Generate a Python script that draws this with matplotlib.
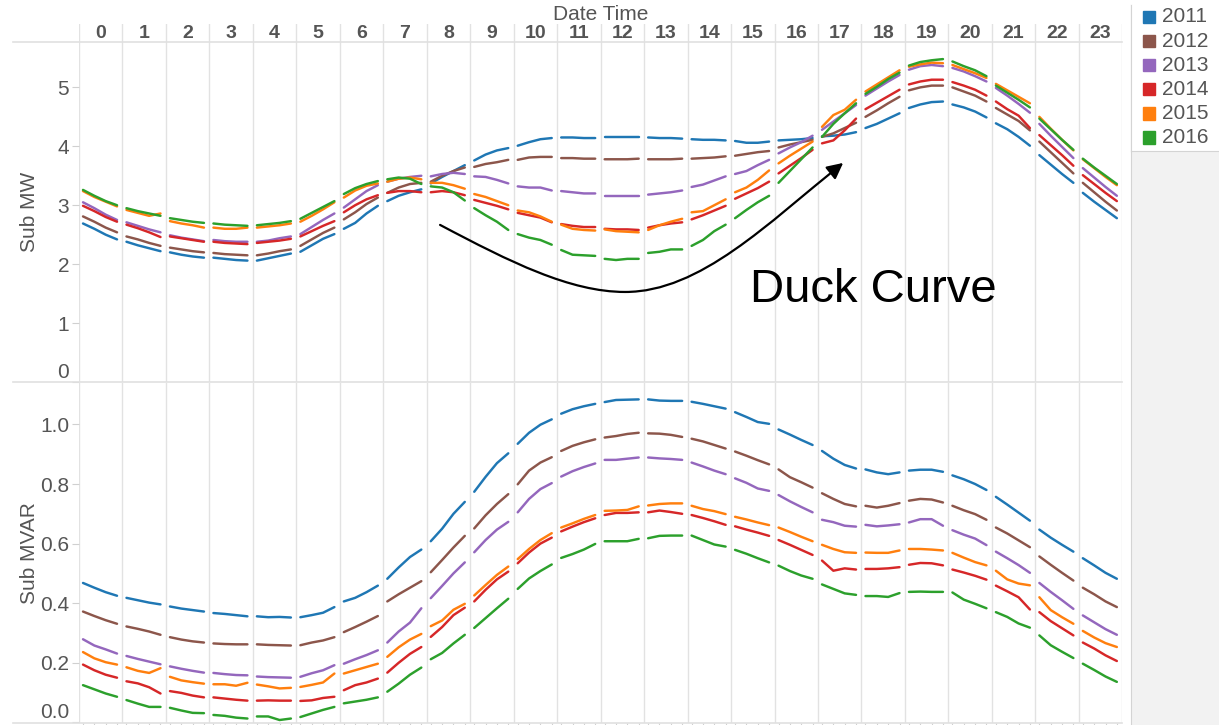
'''
    curva de pato: potencia activa y reactiva por hora del día, 2011-2016
'''

import matplotlib
matplotlib.use('Agg')
import matplotlib.pyplot as plt
from matplotlib.lines import Line2D
from matplotlib.patches import FancyArrowPatch, Rectangle
from matplotlib.path import Path

plt.rcParams['font.family'] = ['Liberation Sans', 'DejaVu Sans']

# datos (4 puntos por hora: minuto 0, 15, 30, 45)
horas = list(range(24))
minutos = [0, 15, 30, 45]
anios = ['2011', '2012', '2013', '2014', '2015', '2016']
colores = ['#1f77b4', '#8c564b', '#9467bd', '#d62728', '#ff7f0e', '#2ca02c']

mw_2011 = [
    [2.69, 2.60, 2.50, 2.42], [2.38, 2.32, 2.27, 2.22], [2.20, 2.16, 2.13, 2.11], [2.11, 2.09, 2.07, 2.06],
    [2.06, 2.10, 2.14, 2.18], [2.21, 2.32, 2.43, 2.51], [2.60, 2.70, 2.86, 2.99], [3.07, 3.16, 3.22, 3.27],
    [3.37, 3.48, 3.58, 3.68], [3.76, 3.86, 3.93, 3.97], [4.01, 4.07, 4.12, 4.14], [4.15, 4.15, 4.14, 4.14],
    [4.15, 4.15, 4.15, 4.15], [4.15, 4.14, 4.14, 4.13], [4.12, 4.11, 4.11, 4.10], [4.09, 4.06, 4.06, 4.08],
    [4.10, 4.11, 4.12, 4.14], [4.17, 4.18, 4.20, 4.24], [4.31, 4.38, 4.47, 4.56], [4.65, 4.71, 4.75, 4.76],
    [4.71, 4.66, 4.59, 4.49], [4.39, 4.29, 4.16, 4.01], [3.85, 3.69, 3.53, 3.38], [3.21, 3.06, 2.92, 2.78],
]
mw_2012 = [
    [2.81, 2.72, 2.62, 2.54], [2.47, 2.42, 2.36, 2.31], [2.28, 2.25, 2.22, 2.20], [2.19, 2.17, 2.16, 2.15],
    [2.15, 2.18, 2.22, 2.25], [2.31, 2.42, 2.53, 2.62], [2.76, 2.88, 3.02, 3.13], [3.21, 3.30, 3.36, 3.38],
    [3.40, 3.50, 3.58, 3.64], [3.65, 3.70, 3.73, 3.77], [3.77, 3.81, 3.82, 3.82], [3.80, 3.80, 3.79, 3.79],
    [3.78, 3.78, 3.78, 3.79], [3.78, 3.78, 3.78, 3.79], [3.79, 3.80, 3.81, 3.83], [3.84, 3.87, 3.90, 3.92],
    [3.98, 4.03, 4.07, 4.11], [4.16, 4.22, 4.31, 4.40], [4.50, 4.61, 4.73, 4.84], [4.95, 5.00, 5.03, 5.03],
    [5.00, 4.93, 4.86, 4.76], [4.65, 4.54, 4.43, 4.27], [4.08, 3.90, 3.72, 3.54], [3.38, 3.22, 3.06, 2.91],
]
mw_2013 = [
    [3.05, 2.95, 2.84, 2.75], [2.71, 2.65, 2.59, 2.54], [2.49, 2.45, 2.42, 2.39], [2.41, 2.39, 2.38, 2.38],
    [2.38, 2.40, 2.44, 2.47], [2.51, 2.63, 2.75, 2.86], [2.96, 3.10, 3.24, 3.34], [3.40, 3.45, 3.48, 3.50],
    [3.49, 3.53, 3.55, 3.53], [3.49, 3.48, 3.43, 3.37], [3.32, 3.30, 3.30, 3.25], [3.24, 3.22, 3.20, 3.20],
    [3.16, 3.16, 3.16, 3.16], [3.18, 3.20, 3.22, 3.25], [3.31, 3.35, 3.42, 3.49], [3.53, 3.58, 3.68, 3.77],
    [3.88, 3.98, 4.07, 4.18], [4.28, 4.42, 4.56, 4.70], [4.86, 4.98, 5.10, 5.21], [5.30, 5.36, 5.38, 5.36],
    [5.33, 5.27, 5.19, 5.10], [4.99, 4.86, 4.72, 4.57], [4.38, 4.18, 3.99, 3.80], [3.63, 3.47, 3.31, 3.16],
]
mw_2014 = [
    [2.99, 2.90, 2.80, 2.72], [2.67, 2.61, 2.54, 2.46], [2.47, 2.44, 2.41, 2.38], [2.38, 2.36, 2.35, 2.34],
    [2.36, 2.38, 2.40, 2.43], [2.47, 2.56, 2.65, 2.73], [2.88, 3.00, 3.10, 3.17], [3.21, 3.24, 3.24, 3.22],
    [3.22, 3.24, 3.22, 3.17], [3.09, 3.04, 2.99, 2.93], [2.87, 2.83, 2.79, 2.71], [2.68, 2.65, 2.63, 2.63],
    [2.60, 2.59, 2.59, 2.58], [2.62, 2.66, 2.69, 2.71], [2.76, 2.83, 2.91, 2.99], [3.11, 3.20, 3.29, 3.40],
    [3.54, 3.67, 3.80, 3.94], [4.05, 4.10, 4.27, 4.47], [4.63, 4.74, 4.85, 4.96], [5.05, 5.10, 5.13, 5.13],
    [5.09, 5.03, 4.96, 4.86], [4.76, 4.63, 4.52, 4.31], [4.19, 4.02, 3.85, 3.67], [3.51, 3.36, 3.21, 3.07],
]
mw_2015 = [
    [3.24, 3.14, 3.06, 2.98], [2.92, 2.87, 2.82, 2.86], [2.73, 2.69, 2.66, 2.62], [2.62, 2.60, 2.60, 2.62],
    [2.62, 2.64, 2.66, 2.69], [2.72, 2.82, 2.93, 3.05], [3.13, 3.25, 3.33, 3.37], [3.40, 3.45, 3.47, 3.44],
    [3.38, 3.38, 3.34, 3.28], [3.19, 3.14, 3.07, 3.00], [2.91, 2.88, 2.81, 2.72], [2.67, 2.60, 2.58, 2.57],
    [2.59, 2.56, 2.55, 2.54], [2.58, 2.66, 2.72, 2.77], [2.88, 2.90, 3.00, 3.10], [3.22, 3.30, 3.43, 3.59],
    [3.71, 3.84, 3.96, 4.08], [4.33, 4.53, 4.62, 4.79], [4.93, 5.05, 5.17, 5.29], [5.35, 5.39, 5.42, 5.41],
    [5.38, 5.31, 5.24, 5.16], [5.06, 4.95, 4.84, 4.73], [4.50, 4.30, 4.11, 3.93], [3.78, 3.63, 3.48, 3.34],
]
mw_2016 = [
    [3.26, 3.16, 3.07, 3.00], [2.95, 2.90, 2.86, 2.82], [2.78, 2.75, 2.72, 2.70], [2.69, 2.67, 2.66, 2.65],
    [2.66, 2.68, 2.70, 2.73], [2.77, 2.87, 2.97, 3.07], [3.19, 3.29, 3.36, 3.41], [3.44, 3.47, 3.45, 3.36],
    [3.32, 3.30, 3.22, 3.08], [2.95, 2.83, 2.72, 2.58], [2.51, 2.45, 2.41, 2.33], [2.24, 2.16, 2.15, 2.14],
    [2.09, 2.07, 2.09, 2.09], [2.19, 2.21, 2.25, 2.25], [2.31, 2.41, 2.56, 2.67], [2.78, 2.92, 3.05, 3.16],
    [3.38, 3.58, 3.78, 3.98], [4.16, 4.38, 4.56, 4.73], [4.89, 5.01, 5.14, 5.25], [5.37, 5.43, 5.46, 5.48],
    [5.44, 5.36, 5.29, 5.19], [5.03, 4.91, 4.79, 4.66], [4.47, 4.29, 4.11, 3.94], [3.79, 3.64, 3.50, 3.36],
]

mvar_2011 = [
    [0.468, 0.452, 0.437, 0.425], [0.418, 0.410, 0.402, 0.396], [0.389, 0.382, 0.377, 0.372], [0.367, 0.364, 0.360, 0.356],
    [0.356, 0.353, 0.354, 0.352], [0.353, 0.360, 0.368, 0.387], [0.406, 0.418, 0.437, 0.459], [0.482, 0.520, 0.555, 0.580],
    [0.608, 0.650, 0.700, 0.740], [0.774, 0.824, 0.870, 0.903], [0.935, 0.972, 0.999, 1.017], [1.036, 1.051, 1.061, 1.069],
    [1.075, 1.082, 1.083, 1.084], [1.084, 1.080, 1.079, 1.079], [1.076, 1.069, 1.061, 1.053], [1.041, 1.025, 1.008, 1.002],
    [0.983, 0.966, 0.948, 0.931], [0.911, 0.885, 0.864, 0.852], [0.849, 0.839, 0.833, 0.839], [0.845, 0.848, 0.848, 0.841],
    [0.829, 0.816, 0.800, 0.780], [0.757, 0.731, 0.704, 0.677], [0.647, 0.620, 0.596, 0.573], [0.551, 0.527, 0.502, 0.482],
]
mvar_2012 = [
    [0.372, 0.357, 0.343, 0.331], [0.322, 0.314, 0.305, 0.294], [0.286, 0.278, 0.272, 0.268], [0.265, 0.263, 0.262, 0.262],
    [0.262, 0.260, 0.259, 0.258], [0.259, 0.268, 0.275, 0.286], [0.303, 0.320, 0.338, 0.357], [0.406, 0.430, 0.452, 0.474],
    [0.504, 0.545, 0.587, 0.626], [0.651, 0.695, 0.733, 0.766], [0.799, 0.845, 0.872, 0.890], [0.911, 0.928, 0.940, 0.950],
    [0.956, 0.961, 0.968, 0.972], [0.970, 0.969, 0.965, 0.958], [0.952, 0.943, 0.931, 0.919], [0.909, 0.895, 0.880, 0.866],
    [0.849, 0.823, 0.806, 0.788], [0.769, 0.750, 0.733, 0.725], [0.727, 0.721, 0.727, 0.736], [0.744, 0.750, 0.748, 0.738],
    [0.727, 0.712, 0.699, 0.680], [0.654, 0.634, 0.611, 0.588], [0.557, 0.529, 0.502, 0.476], [0.452, 0.430, 0.406, 0.387],
]
mvar_2013 = [
    [0.279, 0.258, 0.245, 0.231], [0.223, 0.213, 0.204, 0.195], [0.188, 0.180, 0.173, 0.167], [0.166, 0.162, 0.159, 0.158],
    [0.154, 0.152, 0.151, 0.150], [0.153, 0.165, 0.175, 0.192], [0.197, 0.212, 0.226, 0.242], [0.268, 0.305, 0.335, 0.383],
    [0.417, 0.458, 0.500, 0.537], [0.571, 0.612, 0.647, 0.673], [0.705, 0.750, 0.783, 0.803], [0.825, 0.843, 0.857, 0.869],
    [0.881, 0.881, 0.885, 0.889], [0.889, 0.886, 0.884, 0.881], [0.872, 0.859, 0.845, 0.833], [0.819, 0.804, 0.785, 0.777],
    [0.763, 0.742, 0.723, 0.705], [0.680, 0.672, 0.660, 0.657], [0.663, 0.658, 0.661, 0.665], [0.671, 0.682, 0.682, 0.660],
    [0.645, 0.630, 0.617, 0.595], [0.573, 0.551, 0.528, 0.502], [0.468, 0.438, 0.410, 0.381], [0.359, 0.336, 0.313, 0.294],
]
mvar_2014 = [
    [0.194, 0.175, 0.160, 0.150], [0.138, 0.131, 0.118, 0.097], [0.105, 0.099, 0.090, 0.084], [0.084, 0.080, 0.076, 0.073],
    [0.073, 0.074, 0.073, 0.073], [0.072, 0.074, 0.082, 0.086], [0.108, 0.125, 0.134, 0.147], [0.167, 0.200, 0.230, 0.253],
    [0.287, 0.320, 0.360, 0.385], [0.406, 0.445, 0.480, 0.506], [0.534, 0.570, 0.600, 0.620], [0.641, 0.657, 0.672, 0.685],
    [0.696, 0.703, 0.703, 0.705], [0.705, 0.711, 0.706, 0.700], [0.696, 0.686, 0.675, 0.663], [0.658, 0.647, 0.637, 0.626],
    [0.612, 0.596, 0.579, 0.562], [0.543, 0.509, 0.517, 0.513], [0.515, 0.515, 0.517, 0.521], [0.529, 0.535, 0.534, 0.527],
    [0.513, 0.503, 0.492, 0.479], [0.459, 0.440, 0.420, 0.379], [0.370, 0.340, 0.316, 0.292], [0.268, 0.248, 0.225, 0.206],
]
mvar_2015 = [
    [0.236, 0.215, 0.202, 0.194], [0.185, 0.173, 0.166, 0.182], [0.153, 0.141, 0.135, 0.130], [0.128, 0.128, 0.123, 0.133],
    [0.127, 0.121, 0.114, 0.116], [0.119, 0.126, 0.134, 0.164], [0.164, 0.175, 0.186, 0.197], [0.220, 0.252, 0.278, 0.297],
    [0.323, 0.342, 0.378, 0.398], [0.426, 0.461, 0.495, 0.523], [0.548, 0.582, 0.612, 0.635], [0.654, 0.668, 0.683, 0.696],
    [0.710, 0.711, 0.713, 0.725], [0.728, 0.733, 0.735, 0.735], [0.727, 0.716, 0.709, 0.699], [0.690, 0.681, 0.671, 0.662],
    [0.654, 0.639, 0.623, 0.608], [0.596, 0.582, 0.571, 0.569], [0.570, 0.569, 0.569, 0.577], [0.582, 0.582, 0.580, 0.577],
    [0.569, 0.553, 0.538, 0.527], [0.509, 0.480, 0.466, 0.460], [0.420, 0.377, 0.353, 0.331], [0.307, 0.285, 0.266, 0.253],
]
mvar_2016 = [
    [0.125, 0.111, 0.097, 0.086], [0.075, 0.063, 0.052, 0.052], [0.049, 0.040, 0.032, 0.031], [0.025, 0.022, 0.016, 0.013],
    [0.020, 0.020, 0.008, 0.013], [0.018, 0.030, 0.042, 0.052], [0.064, 0.070, 0.076, 0.084], [0.103, 0.130, 0.160, 0.184],
    [0.212, 0.233, 0.265, 0.294], [0.317, 0.350, 0.383, 0.415], [0.448, 0.483, 0.508, 0.530], [0.552, 0.565, 0.580, 0.599],
    [0.608, 0.608, 0.608, 0.616], [0.618, 0.626, 0.627, 0.627], [0.627, 0.612, 0.597, 0.590], [0.579, 0.566, 0.551, 0.537],
    [0.526, 0.508, 0.493, 0.482], [0.463, 0.448, 0.433, 0.428], [0.424, 0.424, 0.421, 0.434], [0.438, 0.439, 0.438, 0.438],
    [0.436, 0.412, 0.398, 0.383], [0.370, 0.354, 0.332, 0.318], [0.292, 0.259, 0.237, 0.216], [0.197, 0.176, 0.154, 0.136],
]

series_mw = [mw_2011, mw_2012, mw_2013, mw_2014, mw_2015, mw_2016]
series_mvar = [mvar_2011, mvar_2012, mvar_2013, mvar_2014, mvar_2015, mvar_2016]

ticks_mw = [0, 1, 2, 3, 4, 5]
ticks_mvar = [0.0, 0.2, 0.4, 0.6, 0.8, 1.0]

GRIS_TEXTO = '#555555'
GRIS_LINEA = '#e2e2e2'
W, H = 1219, 725


def fx(px):
    return px / W


def fy(py):
    return 1 - py / H


def posiciones(h):
    # cada hora es un panel de ancho 1, con un margen a cada lado
    return [h + (m + 5.3) / 57.5 for m in minutos]


fig = plt.figure(figsize=(W / 100, H / 100), dpi=100)
izq, der = 79, 1122.3

ax_mw = fig.add_axes([fx(izq), fy(382), fx(der - izq), (382 - 42) / H])
ax_mvar = fig.add_axes([fx(izq), fy(722.7), fx(der - izq), (722.7 - 383) / H])

for ax, series in ((ax_mw, series_mw), (ax_mvar, series_mvar)):
    for serie, color in zip(series, colores):
        for h in horas:
            ax.plot(posiciones(h), serie[h], color=color, lw=1.75,
                    solid_capstyle='round', solid_joinstyle='round', zorder=3)
    ax.set_xlim(0, 24)
    for h in range(25):
        ax.axvline(h, color=GRIS_LINEA, lw=1, zorder=1)
    for s in ax.spines.values():
        s.set_visible(False)
    ax.tick_params(axis='y', length=5, color='#d0d0d0', labelsize=15,
                   labelcolor=GRIS_TEXTO, pad=2)

ax_mw.set_ylim(0, 5.77)
ax_mw.set_yticks(ticks_mw)
ax_mw.set_xticks([])
ax_mw.set_ylabel('Sub MW', fontsize=15, color=GRIS_TEXTO)
ax_mw.yaxis.set_label_coords(-0.038, 0.5)

ax_mvar.set_ylim(-0.001, 1.139)
ax_mvar.set_yticks(ticks_mvar)
ax_mvar.set_yticklabels([f'{t:.1f}' for t in ticks_mvar])
ax_mvar.set_xticks([p for h in horas for p in posiciones(h)])
ax_mvar.set_xticklabels([])
ax_mvar.tick_params(axis='x', length=4, color='#d0d0d0', direction='out')
ax_mvar.set_ylabel('Sub MVAR', fontsize=15, color=GRIS_TEXTO)
ax_mvar.yaxis.set_label_coords(-0.038, 0.5)

# la etiqueta del cero queda arriba de la línea, como en Tableau
for ax in (ax_mw, ax_mvar):
    ax.get_yticklabels()[0].set_verticalalignment('bottom')

# encabezado con las horas
ax_h = fig.add_axes([fx(izq), fy(42), fx(der - izq), 18 / H])
ax_h.set_xlim(0, 24)
ax_h.set_ylim(0, 1)
ax_h.axis('off')
for h in range(25):
    ax_h.axvline(h, color=GRIS_LINEA, lw=1)
for h in horas:
    ax_h.text(h + 0.5, 0.5, str(h), ha='center', va='center', fontsize=14,
              fontweight='bold', color=GRIS_TEXTO)
fig.text(fx(600.5), fy(14), 'Date Time', ha='center', va='center',
         fontsize=15, color=GRIS_TEXTO)

# líneas horizontales que separan filas
for y in (42, 382, 722.7):
    fig.add_artist(Line2D([fx(13), fx(der)], [fy(y), fy(y)], color='#e0e0e0', lw=1.2))

# flecha curva y texto
verts = [(8.306, 2.666), (9.917, 2.037), (11.298, 1.528), (12.563, 1.528),
         (14.289, 1.528), (15.854, 2.699), (17.579, 3.718)]
codes = [Path.MOVETO] + [Path.CURVE4] * 6
flecha = FancyArrowPatch(path=Path(verts, codes), arrowstyle='-|>',
                         mutation_scale=24, lw=1.6, color='black', zorder=5)
ax_mw.add_patch(flecha)
ax_mw.text(15.44, 1.363, 'Duck Curve', fontsize=34, color='black', va='baseline')

# franja y leyenda a la derecha
ax_franja = fig.add_axes([fx(1131), 0, fx(W - 1131), fy(5)])
ax_franja.set_facecolor('#f2f2f2')
ax_franja.set_xticks([])
ax_franja.set_yticks([])
for lado, s in ax_franja.spines.items():
    s.set_visible(lado == 'left')
    s.set_color('#d4d4d4')

ax_ley = fig.add_axes([fx(1131), fy(151), fx(W - 1131), (151 - 5) / H])
ax_ley.set_xlim(1131, W)
ax_ley.set_ylim(151, 5)
ax_ley.set_xticks([])
ax_ley.set_yticks([])
for lado, s in ax_ley.spines.items():
    s.set_visible(lado in ('left', 'bottom'))
    s.set_color('#d4d4d4')
for i, (anio, color) in enumerate(zip(anios, colores)):
    yc = 17 + i * 24.1
    ax_ley.add_patch(Rectangle((1142.7, yc - 6.2), 12.3, 12.3, color=color))
    ax_ley.text(1162, yc, anio, va='center', ha='left', fontsize=15, color=GRIS_TEXTO)

fig.savefig('out.png', dpi=100)
